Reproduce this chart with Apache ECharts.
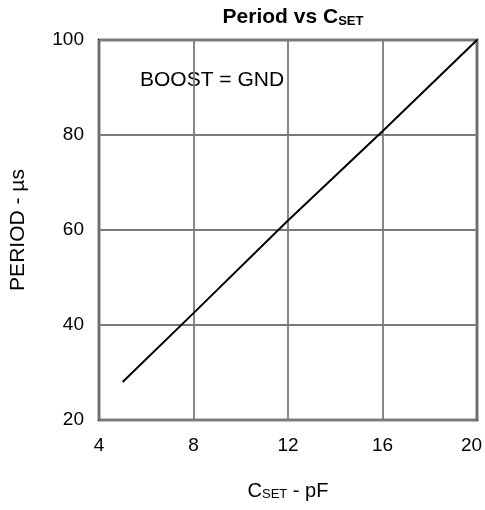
<!DOCTYPE html>
<html>
<head>
<meta charset="utf-8">
<script src="https://cdn.jsdelivr.net/npm/echarts@6/dist/echarts.min.js"></script>
<style>
  html, body { margin: 0; padding: 0; background: #fff; }
  #chart { width: 485px; height: 510px; }
</style>
</head>
<body>
<div id="chart"></div>
<script>
// values
var csetPf = [5, 8, 12, 16, 20];
var periodUs = [28, 42.5, 62, 80.8, 100];
var xTicks = [4, 20, 4];   // min, max, step
var yTicks = [20, 100, 20];

var dom = document.getElementById('chart');
var myChart = echarts.init(dom, null, { renderer: 'canvas' });

var font = 'Liberation Sans, Arial, sans-serif';
var option = {
    animation: false,
    backgroundColor: '#fff',
    title: {
        text: '{b|Period vs C}{s|SET}',
        left: 288,
        textAlign: 'center',
        top: 2,
        textStyle: {
            rich: {
                b: { fontFamily: font, fontSize: 21, fontWeight: 'bold', color: '#000' },
                s: { fontFamily: font, fontSize: 13, fontWeight: 'bold', color: '#000', padding: [8, 0, 0, 0] }
            }
        }
    },
    grid: {
        left: 99,
        right: 8,
        top: 40,
        bottom: 90,
        outerBoundsMode: 'none',
        show: true,
        borderColor: '#000',
        borderWidth: 2.5
    },
    xAxis: {
        type: 'value',
        min: xTicks[0],
        max: xTicks[1],
        interval: xTicks[2],
        name: '{c|C}{s|SET}{c| - pF}',
        nameLocation: 'middle',
        nameGap: 61,
        nameTextStyle: {
            rich: {
                c: { fontFamily: font, fontSize: 20, color: '#000' },
                s: { fontFamily: font, fontSize: 13, color: '#000', padding: [7, 0, 0, 0] }
            }
        },
        axisLine: { show: false },
        axisTick: { show: false },
        axisLabel: {
            fontFamily: font, fontSize: 19, color: '#000', margin: 16,
            // last label sits a little left of the border so it isn't clipped
            formatter: function (v) { return v === xTicks[1] ? '{m|' + v + '}' : '' + v; },
            rich: { m: { fontFamily: font, fontSize: 19, color: '#000', padding: [0, 11, 0, 0] } }
        },
        splitLine: { lineStyle: { color: '#7a7a7a', width: 1.8 } }
    },
    yAxis: {
        type: 'value',
        min: yTicks[0],
        max: yTicks[1],
        interval: yTicks[2],
        name: 'PERIOD - µs',
        nameLocation: 'middle',
        nameGap: 70,
        nameTextStyle: { fontFamily: font, fontSize: 21, color: '#000' },
        axisLine: { show: false },
        axisTick: { show: false },
        axisLabel: { fontFamily: font, fontSize: 19, color: '#000', margin: 15 },
        splitLine: { lineStyle: { color: '#7a7a7a', width: 1.8 } }
    },
    graphic: [
        {
            type: 'text',
            left: 140,
            top: 70,
            style: { text: 'BOOST = GND', fontFamily: font, fontSize: 21, fill: '#000' }
        }
    ],
    series: [
        {
            type: 'line',
            data: csetPf.map(function (x, i) { return [x, periodUs[i]]; }),
            showSymbol: false,
            lineStyle: { color: '#000', width: 2 }
        }
    ]
};
myChart.setOption(option);
</script>
</body>
</html>
